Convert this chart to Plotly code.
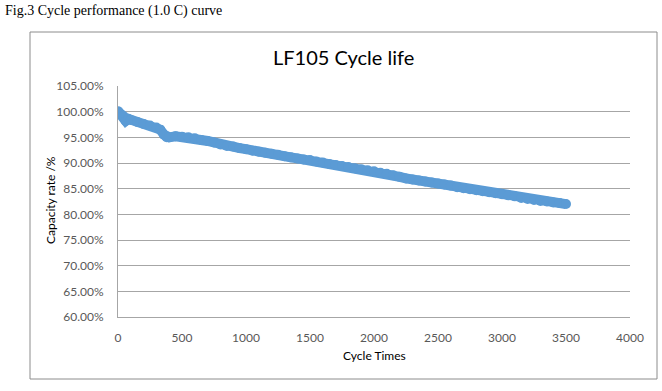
import plotly.graph_objects as go

cycles = [0, 20, 40, 60, 80, 100, 150, 200, 250, 300, 330, 360, 380, 400, 450, 500, 550,
          600, 650, 700, 750, 800, 850, 900, 950, 1000, 1050, 1100, 1150, 1200, 1250, 1300,
          1350, 1400, 1450, 1500, 1550, 1600, 1650, 1700, 1750, 1800, 1850, 1900, 1950, 2000,
          2050, 2100, 2150, 2200, 2250, 2300, 2350, 2400, 2450, 2500, 2550, 2600, 2650, 2700,
          2750, 2800, 2850, 2900, 2950, 3000, 3050, 3100, 3150, 3200, 3250, 3300, 3350, 3400,
          3450, 3500]
capacity = [100.1, 99.6, 99.2, 98.2, 98.6, 98.4, 98.0, 97.6, 97.3, 96.9, 96.5, 95.5, 95.0,
            95.0, 95.2, 95.1, 95.0, 94.8, 94.5, 94.3, 94.0, 93.6, 93.3, 93.2, 92.9, 92.7,
            92.4, 92.2, 92.0, 91.8, 91.6, 91.3, 91.1, 90.9, 90.7, 90.6, 90.3, 90.1, 89.8,
            89.6, 89.4, 89.2, 89.0, 88.8, 88.6, 88.4, 88.1, 87.9, 87.6, 87.3, 87.0, 86.8,
            86.6, 86.4, 86.2, 86.0, 85.8, 85.6, 85.3, 85.1, 84.9, 84.7, 84.5, 84.3, 84.1,
            83.9, 83.7, 83.5, 83.2, 83.0, 82.8, 82.6, 82.5, 82.3, 82.2, 82.0]

x_ticks = [0, 500, 1000, 1500, 2000, 2500, 3000, 3500, 4000]
y_ticks = [60, 65, 70, 75, 80, 85, 90, 95, 100, 105]

W, H = 662, 391
L, R, T, B = 118, 32, 86, 74
pw, ph = W - L - R, H - T - B

def px(x):
    return (x - L) / pw

def py(y):
    return (H - B - y) / ph

fig = go.Figure()
fig.add_trace(go.Scatter(
    x=cycles, y=capacity, mode="lines+markers",
    line=dict(color="#5B9BD5", width=10),
    marker=dict(color="#5B9BD5", size=10),
    hoverinfo="skip", showlegend=False,
))

tickfont = dict(family="Lato", size=12, color="#595959")
fig.update_layout(
    width=W, height=H,
    margin=dict(l=L, r=R, t=T, b=B, pad=0),
    paper_bgcolor="white", plot_bgcolor="white",
    xaxis=dict(range=[0, 4000], tickvals=x_ticks, showgrid=False, zeroline=False,
               showline=True, linecolor="#A6A6A6", linewidth=1, ticks="",
               tickfont=tickfont, ticklabelstandoff=10),
    yaxis=dict(range=[60, 105], tickvals=y_ticks,
               ticktext=[f"{v:.2f}%" for v in y_ticks],
               showgrid=True, gridcolor="#A6A6A6", gridwidth=1, zeroline=False,
               showline=True, linecolor="#A6A6A6", linewidth=1, ticks="",
               tickfont=tickfont, ticklabelstandoff=11),
    shapes=[dict(type="rect", xref="paper", yref="paper",
                 x0=px(30), x1=px(657), y0=py(379), y1=py(32),
                 line=dict(color="#8C8C8C", width=1), layer="below")],
    annotations=[
        dict(text="Fig.3 Cycle performance (1.0 C) curve", xref="paper", yref="paper",
             x=px(3), y=py(11), xanchor="left", yanchor="middle", showarrow=False,
             font=dict(family="Liberation Serif", size=14, color="black")),
        dict(text="LF105 Cycle life", xref="paper", yref="paper",
             x=px(343), y=py(57), xanchor="center", yanchor="middle", showarrow=False,
             font=dict(family="Lato", size=20, color="black")),
        dict(text="Cycle Times", xref="paper", yref="paper",
             x=px(374), y=py(355), xanchor="center", yanchor="middle", showarrow=False,
             font=dict(family="Lato", size=12, color="black")),
        dict(text="Capacity rate /%", xref="paper", yref="paper", textangle=-90,
             x=px(50), y=py(200), xanchor="center", yanchor="middle", showarrow=False,
             font=dict(family="Lato", size=12, color="black")),
    ],
)

fig.write_html("out.html")
